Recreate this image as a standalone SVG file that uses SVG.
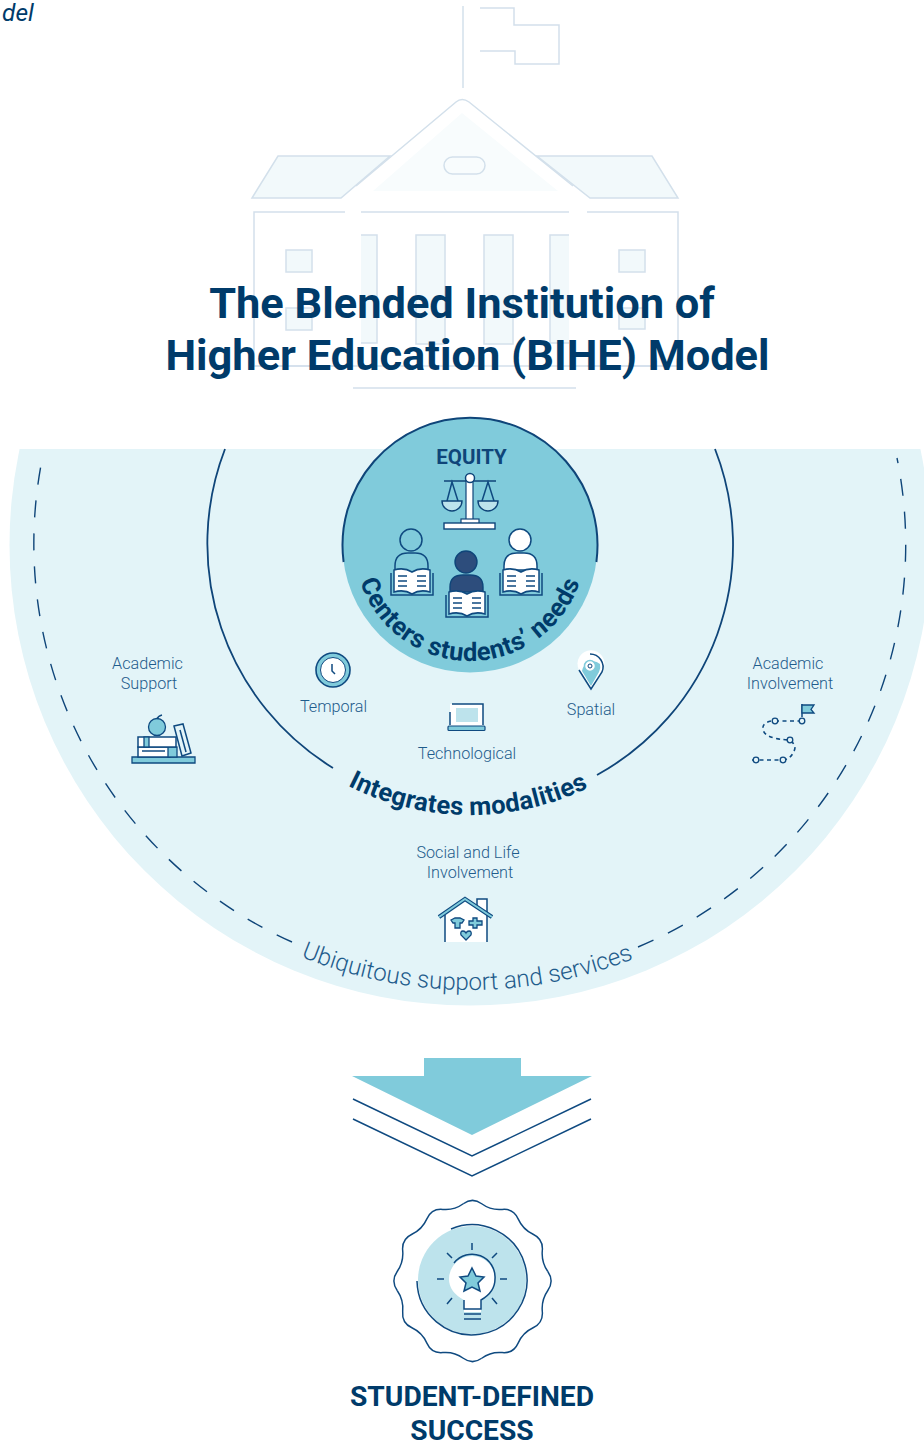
<svg xmlns="http://www.w3.org/2000/svg" width="924" height="1443" viewBox="0 0 924 1443">
<style>
text{font-family:Roboto,"Liberation Sans",sans-serif;text-anchor:middle}
.t{font-size:43.4px;font-weight:700;fill:#003b6a}
.l{font-size:16.2px;font-weight:300;fill:#1f5c8c}
.b{fill:none;stroke:#d3e0eb;stroke-width:1.5}
.f{fill:#f2f9fb;stroke:#d3e0eb;stroke-width:1.5}
.i{fill:none;stroke:#0f4a80;stroke-width:1.5}
.w{fill:#fff;stroke:#0f4a80;stroke-width:1.5}
.a{fill:#80cbdb;stroke:#0f4a80;stroke-width:1.3}
.n{fill:#e3f4f8;stroke:#0f4a80;stroke-width:1.3}
.d{fill:none;stroke:#0f4579;stroke-width:1.8}
.h{font-size:28.2px;font-weight:700;fill:#003b6a}
</style>
<defs>
<clipPath id="c"><rect x="0" y="449" width="924" height="600"/></clipPath>
<path id="p1" d="M354 545A116 116 0 0 0 586 545"/>
<path id="p2" d="M200 545A270 270 0 0 0 740 545"/>
<path id="p3" d="M25 545A445 445 0 0 0 915 545"/>
<path id="q" d="M-9.45-77.25Q0-84 9.45-77.25Q18.900-70.500 30.450-71.600Q42-72.700 46.800-62.150Q51.600-51.600 62.150-46.800Q72.700-42 71.600-30.450Q70.500-18.900 77.250-9.450" fill="none" stroke="#0f4a80" stroke-width="1.500"/>
</defs>
<rect width="924" height="1443" fill="#fff"/>
<text x="2" y="21" style="font-size:24.5px;font-style:italic;text-anchor:start;fill:#003b6a">del</text>
<g id="building">
<path d="M463 6V88" class="b"/>
<path d="M480 8H514V25H559V64H515V51H480" class="b"/>
<path d="M390 156H278L252 198H341ZM537 156H652L678 198H590Z" class="f"/>
<path d="M373 191L462 113L558 191Z" fill="#f8fcfd"/>
<path d="M356 186L456 102Q462 97 469 102L573 186" class="b"/>
<rect x="444" y="157" width="41" height="17" rx="8.5" class="b"/>
<path d="M345 212H254V366H345M361 212H569M587 212H678V366H587" class="b"/>
<path d="M361 235H377V343H361ZM550 235H569V343H550Z" fill="#f2f9fb"/>
<path d="M361 235H377V343H361M569 235H550V343H569" class="b"/>
<rect x="416" y="235" width="29" height="109" class="f"/>
<rect x="484" y="235" width="29" height="109" class="f"/>
<rect x="286" y="250" width="26" height="22" class="f"/>
<rect x="619" y="250" width="26" height="22" class="f"/>
<rect x="286" y="308" width="26" height="22" class="f"/>
<rect x="619" y="308" width="26" height="21" class="f"/>
<path d="M254 366H678M353 388H576" class="b"/>
</g>
<g id="title">
<text x="462" y="317.500" class="t">The Blended Institution of</text>
<text x="467.500" y="369.500" class="t">Higher Education (BIHE) Model</text>
</g>
<g id="ubiquitous">
<circle cx="470" cy="545" r="460.500" fill="#e3f4f8" clip-path="url(#c)"/>
<path d="M292 942A436 436 0 0 1 43 455M638 947A436 436 0 0 0 897 458" fill="none" stroke="#0f4579" stroke-width="1.400" stroke-dasharray="17 16"/>
<text style="font-size:24.2px;font-weight:300;fill:#1f5c8c"><textPath href="#p3" startOffset="696">Ubiquitous support and services</textPath></text>
</g>
<g id="modalities">
<path d="M225 449A263 263 0 0 0 333 768M597 775A263 263 0 0 0 715 449" class="d"/>
<text style="font-size:25.5px;font-weight:700;fill:#003b6a;letter-spacing:.3px"><textPath href="#p2" startOffset="422">Integrates modalities</textPath></text>
</g>
<g id="equity">
<circle cx="470" cy="545" r="127.500" fill="#80cbdb"/>
<path d="M343.600 562A127.500 127.500 0 1 1 596.400 562" fill="none" stroke="#0f4579" stroke-width="2"/>
<text x="471.500" y="464" style="font-size:20.500px;font-weight:700;fill:#0f4579">EQUITY</text>
<g id="scales">
<path d="M444 481H496" stroke="#0f4579" stroke-width="1.500" fill="none"/>
<rect x="466" y="480" width="7" height="43" fill="#fff" stroke="#0f4579" stroke-width="1.200"/>
<circle cx="470" cy="478" r="4.500" fill="#fff" stroke="#0f4579" stroke-width="1.500"/>
<path d="M447 501L452 482L458 501M482 501L488 482L494 501" class="i"/>
<path d="M442 501H462A10 10 0 0 1 442 501ZM478 501H498A10 10 0 0 1 478 501Z" fill="#bde3ec" stroke="#0f4579" stroke-width="1.400"/>
<rect x="461" y="519" width="18" height="5" fill="#fff" stroke="#0f4579" stroke-width="1.200"/>
<rect x="444" y="523" width="51" height="6" fill="#fff" stroke="#0f4579" stroke-width="1.400"/>
</g>
<g id="reader-left">
<circle cx="411" cy="540" r="11" class="i"/>
<path d="M395 570V566Q395 553 408 553H415Q428 553 428 566V570" class="i"/>
<path d="M391 573V595H433V573" class="i"/>
<path d="M394 570Q404 567 412 572Q420 567 430 570V592Q420 589 412 594Q404 589 394 592Z" class="w"/>
<path d="M398 576H407M398 581H407M398 586H407M417 576H426M417 581H426M417 586H426" class="i"/>
</g>
<g id="reader-mid">
<circle cx="466" cy="562" r="11" fill="#2d4d7c" stroke="#0f4579" stroke-width="1.400"/>
<path d="M450 592V587Q450 575 463 575H470Q483 575 483 587V592Z" fill="#2d4d7c" stroke="#0f4579" stroke-width="1.400"/>
<path d="M446 595V617H488V595" class="i"/>
<path d="M449 592Q459 589 467 594Q475 589 485 592V614Q475 611 467 616Q459 611 449 614Z" class="w"/>
<path d="M453 598H462M453 603H462M453 608H462M472 598H481M472 603H481M472 608H481" class="i"/>
</g>
<g id="reader-right">
<circle cx="520" cy="540" r="11" class="w"/>
<path d="M504 570V566Q504 553 517 553H524Q537 553 537 566V570Z" class="w"/>
<path d="M500 573V595H542V573" class="i"/>
<path d="M503 570Q513 567 521 572Q529 567 539 570V592Q529 589 521 594Q513 589 503 592Z" class="w"/>
<path d="M507 576H516M507 581H516M507 586H516M526 576H535M526 581H535M526 586H535" class="i"/>
</g>
<text style="font-size:25.500px;font-weight:700;fill:#003b6a;letter-spacing:.5px"><textPath href="#p1" startOffset="50%">Centers students’ needs</textPath></text>
</g>
<g id="academic-support">
<text x="147.500" y="669" class="l">Academic</text>
<text x="149" y="689" class="l">Support</text>
<path d="M132 757H195V763H132Z" class="a"/>
<path d="M138 747H170V757H138Z" class="w"/>
<rect x="168" y="747" width="9" height="10" class="a"/>
<rect x="138" y="737" width="38" height="10" class="w"/>
<rect x="144" y="737" width="5" height="10" class="a"/>
<path d="M142 751H165" class="i"/>
<path d="M174 726L183 724L191 753L182 756Z" class="i"/>
<path d="M180 730L186 752" class="i"/>
<circle cx="157" cy="727" r="8.500" class="a"/>
<path d="M157 719Q158 716 162 715" class="i"/>
</g>
<g id="temporal">
<circle cx="333" cy="670" r="17" fill="#80cbdb" stroke="#0f4a80" stroke-width="1.600"/>
<circle cx="333" cy="670" r="12.500" fill="#fff" stroke="#0f4a80" stroke-width="1"/>
<path d="M332 664V671L335 674" class="i"/>
<text x="333.500" y="712" class="l">Temporal</text>
</g>
<g id="spatial">
<path d="M591 689L579 670A13.500 13.500 0 1 1 603 670Z" fill="#fff"/>
<path d="M591 686L582 671A11 11 0 0 1 600 664Q601 668 599 672Z" fill="#80cbdb"/>
<path d="M590 654A13 13 0 0 1 602 672L591 689L579 670" class="i"/>
<circle cx="590" cy="666" r="5.500" fill="#fff" stroke="#80cbdb" stroke-width="1.500"/>
<circle cx="590" cy="666" r="2" fill="none" stroke="#0f4a80" stroke-width="1"/>
<text x="591" y="715" class="l">Spatial</text>
</g>
<g id="technological">
<rect x="450" y="704" width="33" height="22" fill="#fff"/>
<path d="M452 704H483V725M450 725V712" class="i"/>
<rect x="456" y="708" width="22" height="14" fill="#bde3ec"/>
<rect x="448" y="726" width="37" height="4.500" rx="1" fill="#80cbdb" stroke="#0f4a80" stroke-width="1.200"/>
<text x="467" y="759" class="l">Technological</text>
</g>
<g id="academic-involvement">
<text x="788" y="669" class="l">Academic</text>
<text x="790" y="689" class="l">Involvement</text>
<path d="M802 717V704" class="i"/>
<path d="M802 705H814L811 709.500L814 713H802Z" class="a"/>
<path d="M771 721Q762 723 763 729Q764 739 790 740Q797 746 794 751Q791 759 783 760M752 760H783M775 721H802" fill="none" stroke="#0f4a80" stroke-width="1.600" stroke-dasharray="4 3.500"/>
<circle cx="775" cy="721" r="2.800" class="n"/>
<circle cx="802" cy="721" r="2.800" class="n"/>
<circle cx="790" cy="740" r="2.800" class="n"/>
<circle cx="783" cy="760" r="2.800" class="n"/>
<circle cx="756" cy="760" r="2.800" class="n"/>
</g>
<g id="social-life">
<text x="468" y="858" class="l">Social and Life</text>
<text x="470" y="878" class="l">Involvement</text>
<path d="M445 942V916L465 902L487 916V942Z" fill="#fff"/>
<path d="M445 942V915M487 942V915" class="i"/>
<path d="M477 908V899H487V914" class="w"/>
<path d="M439 917L465 899L492 917" fill="none" stroke="#0f4a80" stroke-width="4.200"/>
<path d="M439 917L465 899L492 917" fill="none" stroke="#80cbdb" stroke-width="2"/>
<path d="M451 920L455 918H460L464 920L462 923H460V928H455V923H453Z" class="a"/>
<path d="M473 918H477V921H482V925H477V928H473V925H469V921H473Z" class="a"/>
<path d="M466 940L461 935Q460 931 463 931Q465 931 466 933Q467 931 469 931Q472 931 471 935Z" class="a"/>
</g>
<g id="connectors">
<path d="M424 1058H521V1076H592L472 1135L352 1076H424Z" fill="#80cbdb"/>
<path d="M353 1099L472 1156L591 1099M353 1119L472 1176L591 1119" fill="none" stroke="#0f4a80" stroke-width="1.500"/>
</g>
<g id="success">
<g transform="translate(472.500 1281) scale(.975 1)">
<use href="#q"/>
<use href="#q" transform="rotate(90)"/>
<use href="#q" transform="rotate(180)"/>
<use href="#q" transform="rotate(270)"/>
</g>
<circle cx="472" cy="1280" r="54" fill="#bde3ec"/>
<path d="M451 1229A55 55 0 1 1 417 1281" class="i"/>
<path d="M464 1312V1300Q449 1292 449 1279A23 23 0 0 1 495 1279Q495 1292 481 1300V1312Z" fill="#fff"/>
<path d="M454 1263A23 23 0 0 1 495 1279Q495 1292 481 1300V1309H464V1300M464 1314H481M464 1319H481" class="i"/>
<path d="M472 1268L476 1276L484 1277L478 1283L480 1291L472 1287L464 1291L466 1283L460 1277L468 1276Z" fill="#80cbdb" stroke="#0f4a80" stroke-width="1.500"/>
<path d="M472 1243V1250M447 1253L452 1258M497 1253L492 1258M437 1279H444M500 1279H507M447 1304L452 1298M497 1304L492 1298" class="i"/>
<text x="472" y="1406" class="h">STUDENT-DEFINED</text>
<text x="472" y="1440" class="h">SUCCESS</text>
</g>
</svg>
